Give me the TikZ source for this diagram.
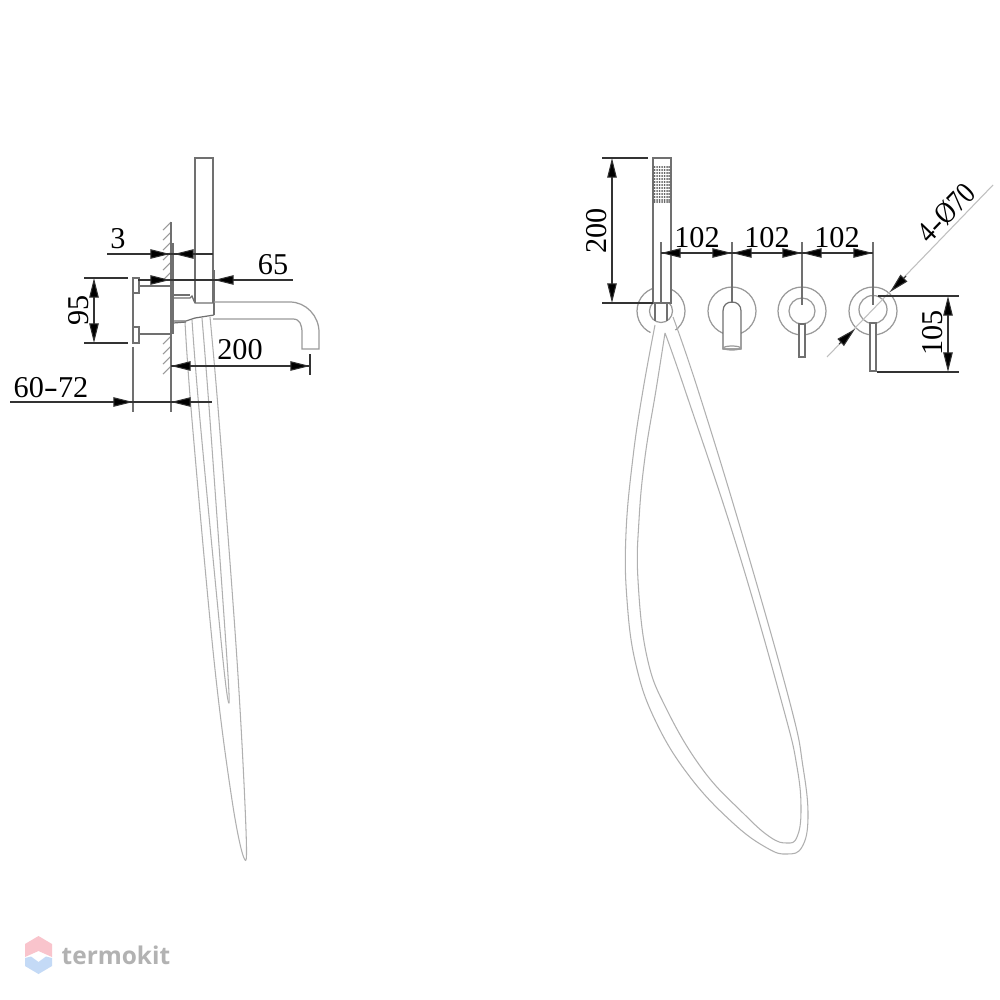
\documentclass[tikz,border=0pt]{standalone}
\usepackage{fontspec}
\usepackage{graphicx}
\setmainfont{Liberation Serif}
\newfontfamily\logofont{Open Sans}
\usetikzlibrary{arrows.meta}
\definecolor{dimc}{HTML}{333333}
\definecolor{hosec}{HTML}{B0B0B0}
\definecolor{ringc}{HTML}{9A9A9A}
\definecolor{bodyc}{HTML}{707070}
\definecolor{logopink}{HTML}{F9C4CC}
\definecolor{logoblue}{HTML}{C4DAF6}
\tikzset{
  dimline/.style={draw=dimc,line width=0.3pt},
  tip/.style={dimline,-{Triangle[length=5.6pt,width=2.7pt,fill=black]}},
  body/.style={draw=bodyc,line width=0.35pt},
  hose/.style={draw=hosec,line width=0.3pt},
  ring/.style={draw=ringc,line width=0.35pt},
  hatch/.style={draw=ringc,line width=0.3pt},
  dimtext/.style={font=\fontsize{8.6}{9}\selectfont,text=black,inner sep=0pt}
}
\newcommand{\hg}{\scalebox{1.4}[1]{-}}
\begin{document}
\begin{tikzpicture}[x=0.01cm,y=-0.01cm]
\useasboundingbox (0,0) rectangle (1000,1000);
\fill[white] (0,0) rectangle (1000,1000);

% ---------- side view ----------
\foreach \yy in {230,240,250,260,270,280,344,354,364,374}
  \draw[hatch] (171,\yy-8) -- (163,\yy);
\draw[body] (171,222) -- (171,412);
\draw[body] (173,243) -- (173,334);
\draw[body] (133,293) -- (133,327);
\draw[body] (133,347) -- (133,412);
\draw[body] (133,278) rectangle (139,293);
\draw[body] (133,327) rectangle (139,343);
\draw[body] (139,286) -- (172,286);
\draw[body] (139,334) -- (172,334);
% side hose
\draw[hose] plot[smooth,tension=0.6] coordinates {(185,322) (192,420) (214,660) (232,800) (244,858) (246,830) (237,660) (219,420) (210,317)};
\draw[hose] plot[smooth,tension=0.6] coordinates {(192,320) (200,420) (223,660) (229,703)};
\draw[hose] plot[smooth,tension=0.6] coordinates {(202,318) (210,420) (227,660) (229,703)};
% hand shower and spout
\draw[body] (195,303) -- (195,158) -- (213,158) -- (213,303);
\draw[body] (214,270) -- (214,315);
\draw[body] (173,295) -- (190,295);
\draw[body] (173,298) -- (190,298) -- (192,296) -- (194,301) -- (195,303) -- (213,303);
\draw[body] (173,321) -- (186,321) -- (195,318) -- (214,315);
\draw[body] (173,323) -- (186,322);
\draw[draw=ringc,line width=0.35pt] (214,302) -- (290,302) .. controls (306,302) and (319,316) .. (319,332) -- (319,349) -- (302,349) -- (302,333) .. controls (302,325) and (300,319) .. (293,319) -- (213,319);

% dimensions, side view
\draw[dimline] (107,254) -- (213,254);
\draw[tip] (149,254) -- (170,254);
\draw[tip] (194,254) -- (174,254);
\node[dimtext] (t3) at (118,239) {3};
\draw[dimline] (138,280) -- (293,280);
\draw[tip] (149,280) -- (170,280);
\draw[tip] (234,280) -- (214,280);
\node[dimtext] (t65) at (273,265) {65};
\draw[dimline] (84,278) -- (128,278);
\draw[dimline] (84,343) -- (128,343);
\draw[tip] (94,298) -- (94,278);
\draw[tip] (94,322) -- (94,343);
\draw[dimline] (94,298) -- (94,322);
\node[dimtext,rotate=90] (t95) at (79,310) {95};
\draw[dimline] (171,366) -- (310,366);
\draw[dimline] (310,354) -- (310,375);
\draw[tip] (191,366) -- (171,366);
\draw[tip] (290,366) -- (310,366);
\node[dimtext] (t200a) at (240,350) {200};
\draw[dimline] (10,402) -- (212,402);
\draw[tip] (112,402) -- (133,402);
\draw[tip] (191,402) -- (171,402);
\node[dimtext] (t6072) at (51,388) {60\hg72};

% ---------- front view ----------
\draw[ring] (661,311) circle (24);
\fill[white] (652,331) -- (674,329) -- (690,345) -- (640,345) -- cycle;
\draw[ring] (661,311) circle (11.5);
\draw[ring] (732,311) circle (24);
\draw[ring] (802,311) circle (24);
\draw[ring] (802,311) circle (13);
\draw[ring] (873,311) circle (24);
\draw[ring] (873,309.5) circle (14);
% hose loop
\draw[hose] plot[smooth,tension=0.7] coordinates {(655,325) (643,390) (633,457) (626,533) (627,600) (636,665) (656,722) (690,777) (733,823) (767,848) (787,854) (802,847) (808,817) (803,767) (790,703) (743,537) (698,390) (673,317)};
\draw[hose] plot[smooth,tension=0.7] coordinates {(665,333) (656,390) (645,457) (639,520) (638,580) (647,657) (667,710) (703,770) (743,813) (770,837) (787,843) (797,837) (801,810) (797,767) (783,707) (737,547) (685,390) (665,333)};
% hand shower
\filldraw[draw=bodyc,line width=0.4pt,fill=white] (653,158) rectangle (671,303);
\foreach \xx in {654.5,657,659.5,662,664.5,667,669}
  \foreach \yy in {167,170,173,176,179,182,185,188,191,194,197,200,202}
    \fill[black!65] (\xx,\yy) circle (1);
\draw[body] (655,303) -- (655,321);
\draw[body] (667,303) -- (667,321);
% spout
\filldraw[draw=bodyc,line width=0.35pt,fill=white] (723,349) -- (723,311) .. controls (723,305) and (727,302) .. (732,302) .. controls (737,302) and (741,305) .. (741,311) -- (741,349) -- cycle;
\draw[ring] (732,348) ellipse (8.5 and 2);
% levers
\filldraw[draw=bodyc,line width=0.35pt,fill=white] (799,324) rectangle (805,357);
\filldraw[draw=bodyc,line width=0.35pt,fill=white] (870,323) rectangle (876,371);
% diagonal diameter line
\draw[draw=black!25,line width=0.3pt] (827,357) -- (993,185);
\draw[tip] (906,276) -- (890,292);
\draw[tip] (839,344) -- (855,329);
\node[dimtext,rotate=46] (t470) at (946,213) {\scalebox{0.85}[1]{4\hg Ø70}};

% dimensions, front view
\draw[dimline] (602,158) -- (648,158);
\draw[dimline] (602,303) -- (653,303);
\draw[dimline] (612,178) -- (612,283);
\draw[tip] (612,178) -- (612,158);
\draw[tip] (612,283) -- (612,303);
\node[dimtext,rotate=90] (t200b) at (597,231) {200};
\draw[body] (661,242) -- (661,303);
\draw[body] (732,242) -- (732,303);
\draw[body] (802,242) -- (802,305);
\draw[body] (873,242) -- (873,305);
\draw[dimline] (661,253) -- (873,253);
\foreach \la/\lb in {661/732,732/802,802/873}{
  \draw[tip] (\la+20,253) -- (\la,253);
  \draw[tip] (\lb-20,253) -- (\lb,253);
}
\node[dimtext] (t102a) at (697,238) {102};
\node[dimtext] (t102b) at (767,238) {102};
\node[dimtext] (t102c) at (837,238) {102};
\draw[dimline] (878,296) -- (959,296);
\draw[dimline] (877,372) -- (959,372);
\draw[dimline] (948,316) -- (948,352);
\draw[tip] (948,316) -- (948,296);
\draw[tip] (948,352) -- (948,372);
\node[dimtext,rotate=90] (t105) at (933,333) {105};

% ---------- watermark ----------
\fill[logopink] (38.5,936) -- (52,944) -- (52,957) -- (38.5,951) -- (25,957) -- (25,944) -- cycle;
\fill[logoblue] (25,958) -- (31,956.5) -- (38.5,962) -- (46,956.5) -- (52,958) -- (52,966) -- (38.5,974) -- (25,966) -- cycle;
\node[inner sep=0pt,anchor=west,text=black!30,font=\logofont\bfseries\fontsize{6.95}{8}\selectfont] (logo) at (61,955) {termokit};
\end{tikzpicture}
\end{document}
